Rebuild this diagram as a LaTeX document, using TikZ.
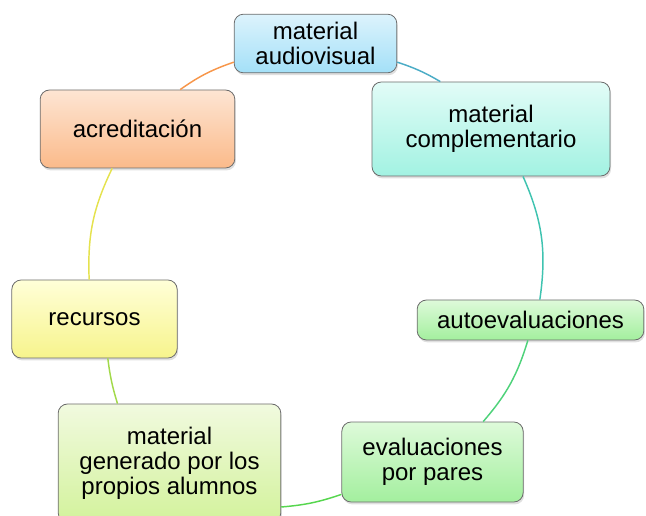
\documentclass[tikz,border=0pt]{standalone}
\usepackage{fontspec}
\setmainfont{Liberation Sans}
\usetikzlibrary{shadows}

\definecolor{azulA}{HTML}{DDF3FC}
\definecolor{azulB}{HTML}{A3E0F8}
\definecolor{aguaA}{HTML}{E2FCF7}
\definecolor{aguaB}{HTML}{A2F2E2}
\definecolor{naranjaA}{HTML}{FDE5D3}
\definecolor{naranjaB}{HTML}{FBBA8A}
\definecolor{amarilloA}{HTML}{FFFFD8}
\definecolor{amarilloB}{HTML}{F7F48C}
\definecolor{verdeA}{HTML}{DEFADA}
\definecolor{verdeB}{HTML}{A3EF9E}
\definecolor{limaA}{HTML}{F1FADF}
\definecolor{limaB}{HTML}{D3F29C}
\definecolor{lineaAzul}{HTML}{4BACC6}
\definecolor{lineaAgua}{HTML}{3FC3B0}
\definecolor{lineaVerde}{HTML}{4ED27A}
\definecolor{lineaVerdeB}{HTML}{56D64E}
\definecolor{lineaLima}{HTML}{A2D94A}
\definecolor{lineaAmarilla}{HTML}{E5E24E}
\definecolor{lineaNaranja}{HTML}{F7964A}

\begin{document}
\begin{tikzpicture}[x=0.75pt,y=-0.75pt,
  caja/.style={draw=gray!85!black, line width=0.6pt, rounded corners=7pt,
    align=center, inner sep=0pt, font=\fontsize{18}{18.6}\selectfont,
    drop shadow={opacity=0.25, shadow xshift=0.8pt, shadow yshift=-1.8pt}},
  enlace/.style={line width=1.1pt}]
\useasboundingbox (0,0) rectangle (646,516);

\node[caja, top color=azulA, bottom color=azulB, minimum width=122pt, minimum height=44pt]
  (audio) at (315.5,43.5) {material\\audiovisual};
\node[caja, top color=aguaA, bottom color=aguaB, minimum width=178.5pt, minimum height=70.5pt]
  (compl) at (491,129) {material\\complementario};
\node[caja, top color=verdeA, bottom color=verdeB, minimum width=170pt, minimum height=30pt]
  (autoev) at (530.5,320) {autoevaluaciones};
\node[caja, top color=verdeA, bottom color=verdeB, minimum width=136pt, minimum height=60pt]
  (pares) at (432.5,462) {evaluaciones\\por pares};
\node[caja, top color=limaA, bottom color=limaB, minimum width=167pt, minimum height=88.5pt]
  (alumnos) at (169.5,463) {material\\generado por los\\propios alumnos};
\node[caja, top color=amarilloA, bottom color=amarilloB, minimum width=124pt, minimum height=58.5pt]
  (recursos) at (94.5,319) {recursos};
\node[caja, top color=naranjaA, bottom color=naranjaB, minimum width=146pt, minimum height=58.5pt]
  (acred) at (137.5,129) {acreditación};

% anillo de enlaces
\draw[enlace, lineaAzul] ([yshift=-14pt]audio.east) to[bend left=6] ([xshift=-38pt]compl.north);
\draw[enlace, lineaAgua] ([xshift=24pt]compl.south) to[bend left=16] ([xshift=7pt]autoev.north);
\draw[enlace, lineaVerde] ([xshift=-2pt]autoev.south) to[bend left=12] ([xshift=38pt]pares.north);
\draw[enlace, lineaVerdeB] ([yshift=6pt]pares.south west) to[bend left=7] ([yshift=-33pt]alumnos.east);
\draw[enlace, lineaLima] ([xshift=-39pt]alumnos.north) to[bend left=5] ([xshift=10pt]recursos.south);
\draw[enlace, lineaAmarilla] ([xshift=-4pt]recursos.north) to[bend left=14] ([xshift=-19pt]acred.south);
\draw[enlace, lineaNaranja] ([xshift=32pt]acred.north) to[bend left=8] ([yshift=-14pt]audio.west);
\end{tikzpicture}
\end{document}
